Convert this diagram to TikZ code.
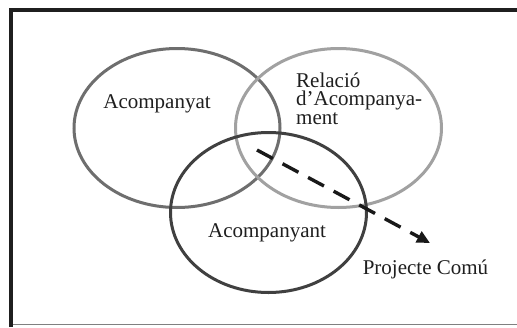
\documentclass[tikz,border=0pt]{standalone}
\usepackage{fontspec}
\setmainfont{Liberation Serif}
\usetikzlibrary{arrows.meta}
\begin{document}
\begin{tikzpicture}[x=1pt,y=-1pt,
  ring/.style={line width=3pt},
  label/.style={text=black!88, font=\fontsize{21}{18.5}\selectfont, inner sep=0pt},
  flow/.style={line width=3.4pt, dash pattern=on 18pt off 11pt, black!90,
    -{Triangle[length=13pt,width=12pt]}}]
  % page area
  \useasboundingbox (0,0) rectangle (517,327);
  \fill[white] (0,0) rectangle (517,327);
  % frame: heavy left and top rule, light bottom rule
  \draw[black!88, line width=4pt] (11,327) -- (11,10) -- (517,10);
  \draw[black!50, line width=1.5pt] (13,324.5) -- (517,324.5);

  % the three overlapping sets
  \draw[ring, black!57] (177,128) ellipse [x radius=103, y radius=79.5];
  \draw[ring, black!37] (338.5,128) ellipse [x radius=103, y radius=79.5];
  \draw[ring, black!75] (268.5,212.5) ellipse [x radius=98, y radius=80];

  % labels (the base of a multi-line label is its last line)
  \node[label, anchor=base] (acompanyat) at (157,108) {Acompanyat};
  \node[label, anchor=base west, align=left] (relacio) at (296,124)
    {Relació\\d’Acompanya-\\ment};
  \node[label, anchor=base] (acompanyant) at (267,237) {Acompanyant};
  \node[label, anchor=base] (projecte) at (425.5,274) {Projecte Comú};

  % shared project arrow
  \coordinate (centre) at (257,150);
  \coordinate (tip) at (430,243);
  \draw[flow] (centre) -- (tip);
\end{tikzpicture}
\end{document}
